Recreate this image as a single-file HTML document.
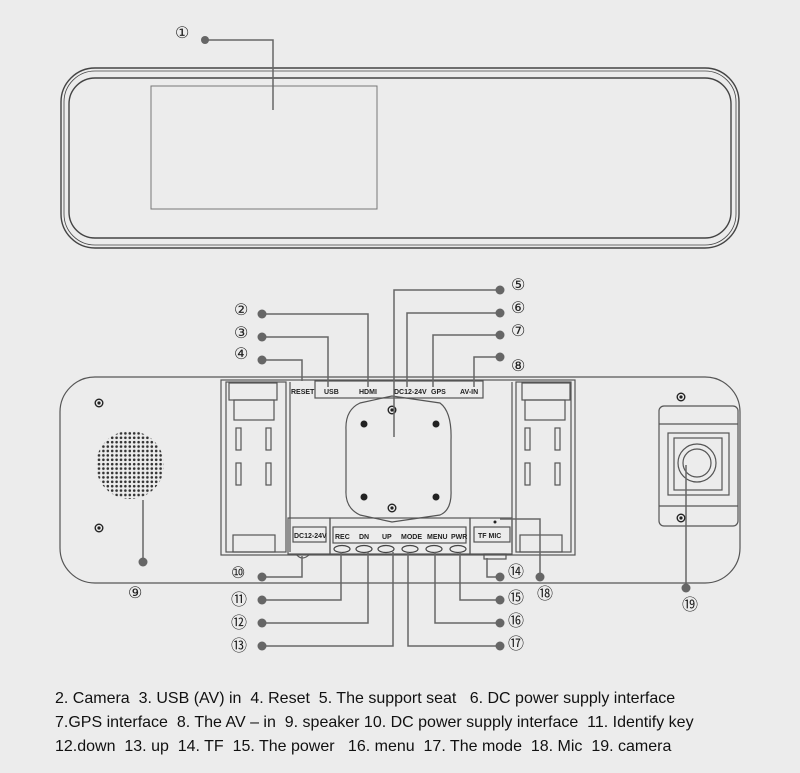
<!DOCTYPE html>
<html><head><meta charset="utf-8"><style>
html,body{margin:0;padding:0;background:#ececec;}
svg{display:block}
.t{font-family:"Liberation Sans",sans-serif;font-size:16px;fill:#111}
.n{font-family:"Liberation Serif",serif;font-size:16px;fill:#222}
.s{font-family:"Liberation Sans",sans-serif;font-size:7px;font-weight:bold;fill:#222}
</style></head><body>
<svg width="800" height="773" viewBox="0 0 800 773" xmlns="http://www.w3.org/2000/svg">
<defs>
<pattern id="dots" width="4.4" height="4.4" patternUnits="userSpaceOnUse">
<circle cx="2.2" cy="2.2" r="1.3" fill="#333"/>
</pattern>
<g id="scr"><circle r="3.8" fill="none" stroke="#222" stroke-width="1.4"/><circle r="1.6" fill="#222"/></g>
</defs>
<rect width="800" height="773" fill="#ececec"/>
<g fill="none" stroke="#444">
 <rect x="61" y="68" width="678" height="180" rx="34" stroke-width="1.4"/>
 <rect x="64" y="71" width="672" height="174" rx="31" stroke-width="0.8"/>
 <rect x="69" y="78" width="662" height="160" rx="26" stroke-width="1.4"/>
 <rect x="151" y="86" width="226" height="123" stroke="#777"/>
</g>
<g stroke="#666" stroke-width="1.5" fill="none">
 <polyline points="205,40 273,40 273,110"/>
</g>
<circle cx="205" cy="40" r="4" fill="#666"/>
<text class="n" x="175" y="38">①</text>

<g fill="none" stroke="#555" stroke-width="1.2">
 <path d="M95,377 H705 A35,35 0 0 1 740,412 V548 A35,35 0 0 1 705,583 H95 A35,35 0 0 1 60,548 V412 A35,35 0 0 1 95,377 Z"/>
 <rect x="221" y="380" width="354" height="175" fill="#ececec"/>
 <rect x="226" y="382" width="60" height="170"/>
 <rect x="516" y="382" width="55" height="170"/>
 <line x1="290" y1="382" x2="290" y2="552"/>
 <line x1="512" y1="382" x2="512" y2="552"/>
 <rect x="229" y="383" width="48" height="17"/><rect x="234" y="400" width="40" height="20"/>
 <rect x="522" y="383" width="48" height="17"/><rect x="525" y="400" width="40" height="20"/>
 <rect x="236" y="428" width="5" height="22"/><rect x="266" y="428" width="5" height="22"/>
 <rect x="236" y="463" width="5" height="22"/><rect x="266" y="463" width="5" height="22"/>
 <rect x="525" y="428" width="5" height="22"/><rect x="555" y="428" width="5" height="22"/>
 <rect x="525" y="463" width="5" height="22"/><rect x="555" y="463" width="5" height="22"/>
 <rect x="233" y="535" width="42" height="17"/><rect x="520" y="535" width="42" height="17"/>
 <rect x="315" y="381" width="168" height="17"/>
 <path d="M360,403 L392,396 L440,403 Q452,412 451,440 L451,490 Q452,510 440,515 L392,522 L360,515 Q345,508 346,490 L346,430 Q345,410 360,403 Z"/>
 <rect x="288" y="518" width="42" height="36"/>
 <rect x="293" y="527" width="33" height="15"/>
 <rect x="330" y="518" width="140" height="36"/>
 <rect x="333" y="527" width="133" height="16"/>
 <rect x="470" y="518" width="42" height="36"/>
 <rect x="474" y="527" width="36" height="15"/>
 <rect x="484" y="554" width="22" height="5"/>
 <path d="M296,554 Q302,562 310,554"/>
 <rect x="659" y="406" width="79" height="120" rx="5"/>
 <line x1="659" y1="424" x2="738" y2="424"/><line x1="659" y1="506" x2="738" y2="506"/>
 <rect x="668" y="433" width="61" height="62"/>
 <rect x="674" y="438" width="48" height="52"/>
 <circle cx="697" cy="463" r="19"/><circle cx="697" cy="463" r="14"/>
</g>
<g fill="#222">
 <circle cx="364" cy="424" r="3.5"/><circle cx="436" cy="424" r="3.5"/>
 <circle cx="364" cy="497" r="3.5"/><circle cx="436" cy="497" r="3.5"/>
 <circle cx="495" cy="522" r="1.5"/>
</g>
<use href="#scr" x="392" y="410"/><use href="#scr" x="392" y="508"/>
<use href="#scr" x="99" y="403"/><use href="#scr" x="99" y="528"/>
<use href="#scr" x="681" y="397"/><use href="#scr" x="681" y="518"/>
<g fill="none" stroke="#444" stroke-width="1.2">
 <ellipse cx="342" cy="549" rx="8" ry="3.5"/><ellipse cx="364" cy="549" rx="8" ry="3.5"/>
 <ellipse cx="386" cy="549" rx="8" ry="3.5"/><ellipse cx="410" cy="549" rx="8" ry="3.5"/>
 <ellipse cx="434" cy="549" rx="8" ry="3.5"/><ellipse cx="458" cy="549" rx="8" ry="3.5"/>
</g>
<circle cx="130" cy="465" r="34" fill="url(#dots)"/>
<text class="s" x="291" y="394">RESET</text>
<text class="s" x="324" y="394">USB</text>
<text class="s" x="359" y="394">HDMI</text>
<text class="s" x="394" y="394">DC12-24V</text>
<text class="s" x="431" y="394">GPS</text>
<text class="s" x="460" y="394">AV-IN</text>
<text class="s" x="294" y="538" font-size="6">DC12-24V</text>
<text class="s" x="335" y="539">REC</text>
<text class="s" x="359" y="539">DN</text>
<text class="s" x="382" y="539">UP</text>
<text class="s" x="401" y="539">MODE</text>
<text class="s" x="427" y="539">MENU</text>
<text class="s" x="451" y="539">PWR</text>
<text class="s" x="478" y="538">TF&#160;MIC</text>

<g stroke="#666" stroke-width="1.5" fill="none">
 <polyline points="262,314 368,314 368,387"/>
 <polyline points="262,337 328,337 328,387"/>
 <polyline points="262,360 302,360 302,381"/>
 <polyline points="500,290 394,290 394,437"/>
 <polyline points="500,313 407,313 407,387"/>
 <polyline points="500,335 433,335 433,387"/>
 <polyline points="500,357 474,357 474,387"/>
 <polyline points="262,577 302,577 302,556"/>
 <polyline points="262,600 341,600 341,552"/>
 <polyline points="262,623 368,623 368,552"/>
 <polyline points="262,646 393,646 393,552"/>
 <polyline points="500,577 487,577 487,558"/>
 <polyline points="500,600 460,600 460,552"/>
 <polyline points="500,623 435,623 435,552"/>
 <polyline points="500,646 408,646 408,552"/>
 <polyline points="540,577 540,519 500,519"/>
 <line x1="143" y1="562" x2="143" y2="500"/>
 <line x1="686" y1="588" x2="686" y2="465"/>
</g>
<g fill="#666">
 <circle cx="262" cy="314" r="4.5"/><circle cx="262" cy="337" r="4.5"/><circle cx="262" cy="360" r="4.5"/>
 <circle cx="500" cy="290" r="4.5"/><circle cx="500" cy="313" r="4.5"/><circle cx="500" cy="335" r="4.5"/><circle cx="500" cy="357" r="4.5"/>
 <circle cx="262" cy="577" r="4.5"/><circle cx="262" cy="600" r="4.5"/><circle cx="262" cy="623" r="4.5"/><circle cx="262" cy="646" r="4.5"/>
 <circle cx="500" cy="577" r="4.5"/><circle cx="500" cy="600" r="4.5"/><circle cx="500" cy="623" r="4.5"/><circle cx="500" cy="646" r="4.5"/>
 <circle cx="540" cy="577" r="4.5"/><circle cx="143" cy="562" r="4.5"/><circle cx="686" cy="588" r="4.5"/>
</g>
<g>
 <text class="n" x="234" y="315">②</text><text class="n" x="234" y="338">③</text><text class="n" x="234" y="359">④</text>
 <text class="n" x="511" y="290">⑤</text><text class="n" x="511" y="313">⑥</text><text class="n" x="511" y="336">⑦</text><text class="n" x="511" y="371">⑧</text>
 <text class="n" x="128" y="598">⑨</text>
 <text class="n" x="231" y="578">⑩</text><text class="n" x="231" y="605">⑪</text><text class="n" x="231" y="628">⑫</text><text class="n" x="231" y="651">⑬</text>
 <text class="n" x="508" y="577">⑭</text><text class="n" x="508" y="603">⑮</text><text class="n" x="508" y="626">⑯</text><text class="n" x="508" y="649">⑰</text>
 <text class="n" x="537" y="599">⑱</text><text class="n" x="682" y="610">⑲</text>
</g>
<text class="t" x="55" y="703">2. Camera&#160; 3. USB (AV) in&#160; 4. Reset&#160; 5. The support seat&#160;&#160; 6. DC power supply interface</text>
<text class="t" x="55" y="727">7.GPS interface&#160; 8. The AV – in&#160; 9. speaker 10. DC power supply interface&#160; 11. Identify key</text>
<text class="t" x="55" y="751">12.down&#160; 13. up&#160; 14. TF&#160; 15. The power&#160;&#160; 16. menu&#160; 17. The mode&#160; 18. Mic&#160; 19. camera</text>
</svg>
</body></html>
